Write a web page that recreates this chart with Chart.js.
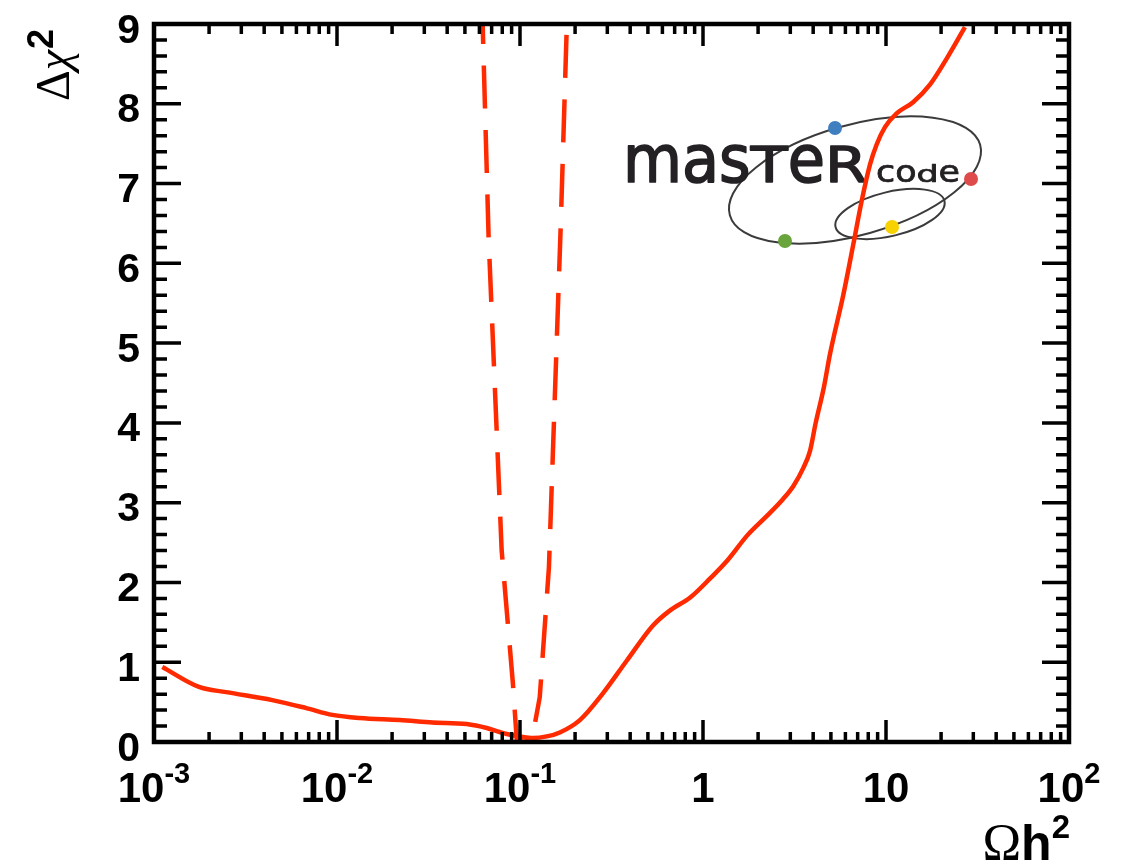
<!DOCTYPE html>
<html>
<head>
<meta charset="utf-8">
<script src="https://cdn.jsdelivr.net/npm/chart.js@4.4.1/dist/chart.umd.min.js"></script>
<style>
  html, body { margin: 0; padding: 0; background: #ffffff; }
  #c { display: block; }
</style>
</head>
<body>
<canvas id="c" width="1126" height="868"></canvas>
<script>
// Δχ² profile versus the relic density Ωh² (global fit, solid line)
const fitOmega = [0.00111, 0.00176, 0.00248, 0.00443, 0.00679, 0.00944, 0.0133, 0.0220, 0.0333,
  0.0511, 0.0658, 0.0774, 0.0847, 0.1000, 0.1175, 0.140, 0.165, 0.2123, 0.2838, 0.3846,
  0.533, 0.661, 0.851, 1.094, 1.358, 1.746, 2.249, 2.748, 3.119, 3.540, 3.845, 4.129,
  4.58, 4.94, 5.85, 6.63, 7.36, 8.18, 8.89, 9.89, 11.43, 14.06, 17.38, 21.5, 27.0];
const fitChi2 = [0.94, 0.69, 0.625, 0.525, 0.425, 0.34, 0.30, 0.275, 0.245,
  0.225, 0.175, 0.125, 0.10, 0.07, 0.05, 0.07, 0.12, 0.275, 0.61, 1.025,
  1.46, 1.65, 1.81, 2.05, 2.275, 2.59, 2.84, 3.05, 3.21, 3.44, 3.65, 4.0,
  4.45, 4.86, 5.61, 6.24, 6.78, 7.24, 7.49, 7.71, 7.88, 8.02, 8.24, 8.57, 8.96];

// Δχ² of the direct relic-density measurement (dashed line)
const measOmega = [0.0625, 0.0674, 0.0794, 0.0914, 0.0960, 0.105, 0.1161, 0.1282, 0.1439, 0.1671, 0.1803];
const measChi2 = [9.0, 6.31, 2.4, 0.74, 0.025, 0.0, 0.025, 0.56, 2.19, 6.5, 9.0];

// axis ticks and labels
const xMajorTicks = [0.001, 0.01, 0.1, 1, 10, 100];
const xTickBase = ['10', '10', '10', '1', '10', '10'];
const xTickExp = ['-3', '-2', '-1', '', '', '2'];
const yMajorTicks = [0, 1, 2, 3, 4, 5, 6, 7, 8, 9];
const yTickLabels = ['0', '1', '2', '3', '4', '5', '6', '7', '8', '9'];

const RED = '#ff2a00';
const SANS = '"Liberation Sans", Arial, Helvetica, sans-serif';
const SERIF = '"Liberation Serif", "DejaVu Serif", serif';

function toPoints(xs, ys) { return xs.map((x, i) => ({ x: x, y: ys[i] })); }

// MasterCode logo: two orbits, four coloured dots and the word mark
function drawWordMark(ctx, text, x0, x1, yBottom, height, weight) {
  ctx.save();
  ctx.font = '100px "DejaVu Sans", sans-serif';
  const widths = [...text].map(ch => ctx.measureText(ch).width);
  const total = widths.reduce((a, b) => a + b, 0);
  const sx = (x1 - x0) / total;
  let x = x0;
  [...text].forEach((ch, i) => {
    const m = ctx.measureText(ch);
    const sy = height / m.actualBoundingBoxAscent;
    ctx.save();
    ctx.translate(x, yBottom);
    ctx.scale(sx, sy);
    ctx.lineWidth = weight / Math.sqrt(sx * sy);
    ctx.lineJoin = 'round';
    ctx.fillText(ch, 0, 0);
    ctx.strokeText(ch, 0, 0);
    ctx.restore();
    x += widths[i] * sx;
  });
  ctx.restore();
}

const logoPlugin = {
  id: 'logo',
  beforeDatasetsDraw(chart) {
    const ctx = chart.ctx;
    ctx.save();
    ctx.filter = 'blur(0.6px)';
    ctx.strokeStyle = '#3b3b3b';
    ctx.lineWidth = 2;
    ctx.beginPath();
    ctx.ellipse(855, 180, 130, 55, -15.7 * Math.PI / 180, 0, Math.PI * 2);
    ctx.stroke();
    ctx.beginPath();
    ctx.ellipse(890, 214, 56, 22, -13.5 * Math.PI / 180, 0, Math.PI * 2);
    ctx.stroke();
    ctx.fillStyle = '#242124';
    ctx.strokeStyle = '#242124';
    drawWordMark(ctx, 'masTeR', 623, 867, 182, 37, 1.6);
    drawWordMark(ctx, 'code', 876, 960, 182, 17, 0.8);
    const dots = [[835, 128, '#3f7fbf'], [971, 179, '#dd4b4b'], [785, 241, '#6aa43c'], [892, 227, '#f7d200']];
    dots.forEach(d => {
      ctx.fillStyle = d[2];
      ctx.beginPath();
      ctx.arc(d[0], d[1], 7, 0, Math.PI * 2);
      ctx.fill();
    });
    ctx.restore();
  }
};

// frame with inward ticks on all four sides, tick labels and axis titles
const framePlugin = {
  id: 'frame',
  afterDatasetsDraw(chart) {
    const ctx = chart.ctx;
    const a = chart.chartArea;
    const xs = chart.scales.x, ys = chart.scales.y;
    ctx.save();
    ctx.strokeStyle = '#000';
    ctx.fillStyle = '#000';

    ctx.lineWidth = 3.5;
    ctx.beginPath();
    // x ticks: majors at decades, minors at 2..9
    xMajorTicks.forEach(v => {
      const p = xs.getPixelForValue(v);
      ctx.moveTo(p, a.bottom); ctx.lineTo(p, a.bottom - 22);
      ctx.moveTo(p, a.top); ctx.lineTo(p, a.top + 22);
    });
    for (let d = -3; d <= 1; d++) {
      for (let m = 2; m <= 9; m++) {
        const p = xs.getPixelForValue(m * Math.pow(10, d));
        ctx.moveTo(p, a.bottom); ctx.lineTo(p, a.bottom - 10);
        ctx.moveTo(p, a.top); ctx.lineTo(p, a.top + 10);
      }
    }
    // y ticks: majors at integers, minors every 0.2
    for (let k = 0; k <= 45; k++) {
      const p = ys.getPixelForValue(k * 0.2);
      const len = (k % 5 === 0) ? 27 : 13;
      ctx.moveTo(a.left, p); ctx.lineTo(a.left + len, p);
      ctx.moveTo(a.right, p); ctx.lineTo(a.right - len, p);
    }
    ctx.stroke();

    ctx.lineWidth = 4.5;
    ctx.strokeRect(a.left, a.top, a.right - a.left, a.bottom - a.top);

    // y tick labels
    ctx.font = 'bold 41px ' + SANS;
    ctx.textAlign = 'right';
    ctx.textBaseline = 'alphabetic';
    yMajorTicks.forEach((v, i) => {
      ctx.fillText(yTickLabels[i], 140, ys.getPixelForValue(v) + 18.5);
    });

    // x tick labels with exponents
    ctx.textAlign = 'left';
    xMajorTicks.forEach((v, i) => {
      const p = xs.getPixelForValue(v);
      ctx.font = 'bold 42px ' + SANS;
      const wb = ctx.measureText(xTickBase[i]).width;
      ctx.font = 'bold 29px ' + SANS;
      const we = xTickExp[i] ? ctx.measureText(xTickExp[i]).width : 0;
      const x0 = p - (wb + we) / 2;
      ctx.font = 'bold 42px ' + SANS;
      ctx.fillText(xTickBase[i], x0, 802);
      if (xTickExp[i]) {
        ctx.font = 'bold 29px ' + SANS;
        ctx.fillText(xTickExp[i], x0 + wb, 783);
      }
    });

    // x axis title: Ωh²
    ctx.font = '52px ' + SERIF;
    const wO = ctx.measureText('Ω').width;
    ctx.font = 'bold 50px ' + SANS;
    const wH = ctx.measureText('h').width;
    ctx.font = 'bold 33px ' + SANS;
    const w2 = ctx.measureText('2').width;
    const tx = 1070 - (wO + wH + w2);
    ctx.font = '52px ' + SERIF;
    ctx.fillText('Ω', tx, 860);
    ctx.font = 'bold 50px ' + SANS;
    ctx.fillText('h', tx + wO, 860);
    ctx.font = 'bold 33px ' + SANS;
    ctx.fillText('2', tx + wO + wH, 838);

    // y axis title: Δχ²
    ctx.save();
    ctx.translate(69, 101);
    ctx.rotate(-Math.PI / 2);
    ctx.font = '48px ' + SERIF;
    ctx.fillText('Δ', 0, 0);
    const wD = ctx.measureText('Δ').width;
    ctx.font = 'italic 46px ' + SERIF;
    ctx.fillText('χ', wD, 0);
    const wC = ctx.measureText('χ').width;
    ctx.font = 'bold 36px ' + SANS;
    ctx.fillText('2', wD + wC + 1, -16);
    ctx.restore();

    ctx.restore();
  }
};

new Chart(document.getElementById('c').getContext('2d'), {
  type: 'line',
  data: {
    datasets: [
      {
        data: toPoints(fitOmega, fitChi2),
        borderColor: RED,
        borderWidth: 4.5,
        pointRadius: 0,
        fill: false,
        cubicInterpolationMode: 'monotone',
        clip: 0
      },
      {
        data: toPoints(measOmega, measChi2),
        borderColor: RED,
        borderWidth: 4.5,
        borderDash: [43, 21.5],
        borderDashOffset: 23,
        pointRadius: 0,
        fill: false,
        tension: 0,
        clip: 0
      }
    ]
  },
  options: {
    responsive: false,
    animation: false,
    events: [],
    layout: { padding: { left: 154, right: 57, top: 24, bottom: 126 } },
    plugins: { legend: { display: false }, tooltip: { enabled: false } },
    scales: {
      x: { type: 'logarithmic', min: 0.001, max: 100, display: false },
      y: { type: 'linear', min: 0, max: 9, display: false }
    }
  },
  plugins: [logoPlugin, framePlugin]
});
</script>
</body>
</html>
